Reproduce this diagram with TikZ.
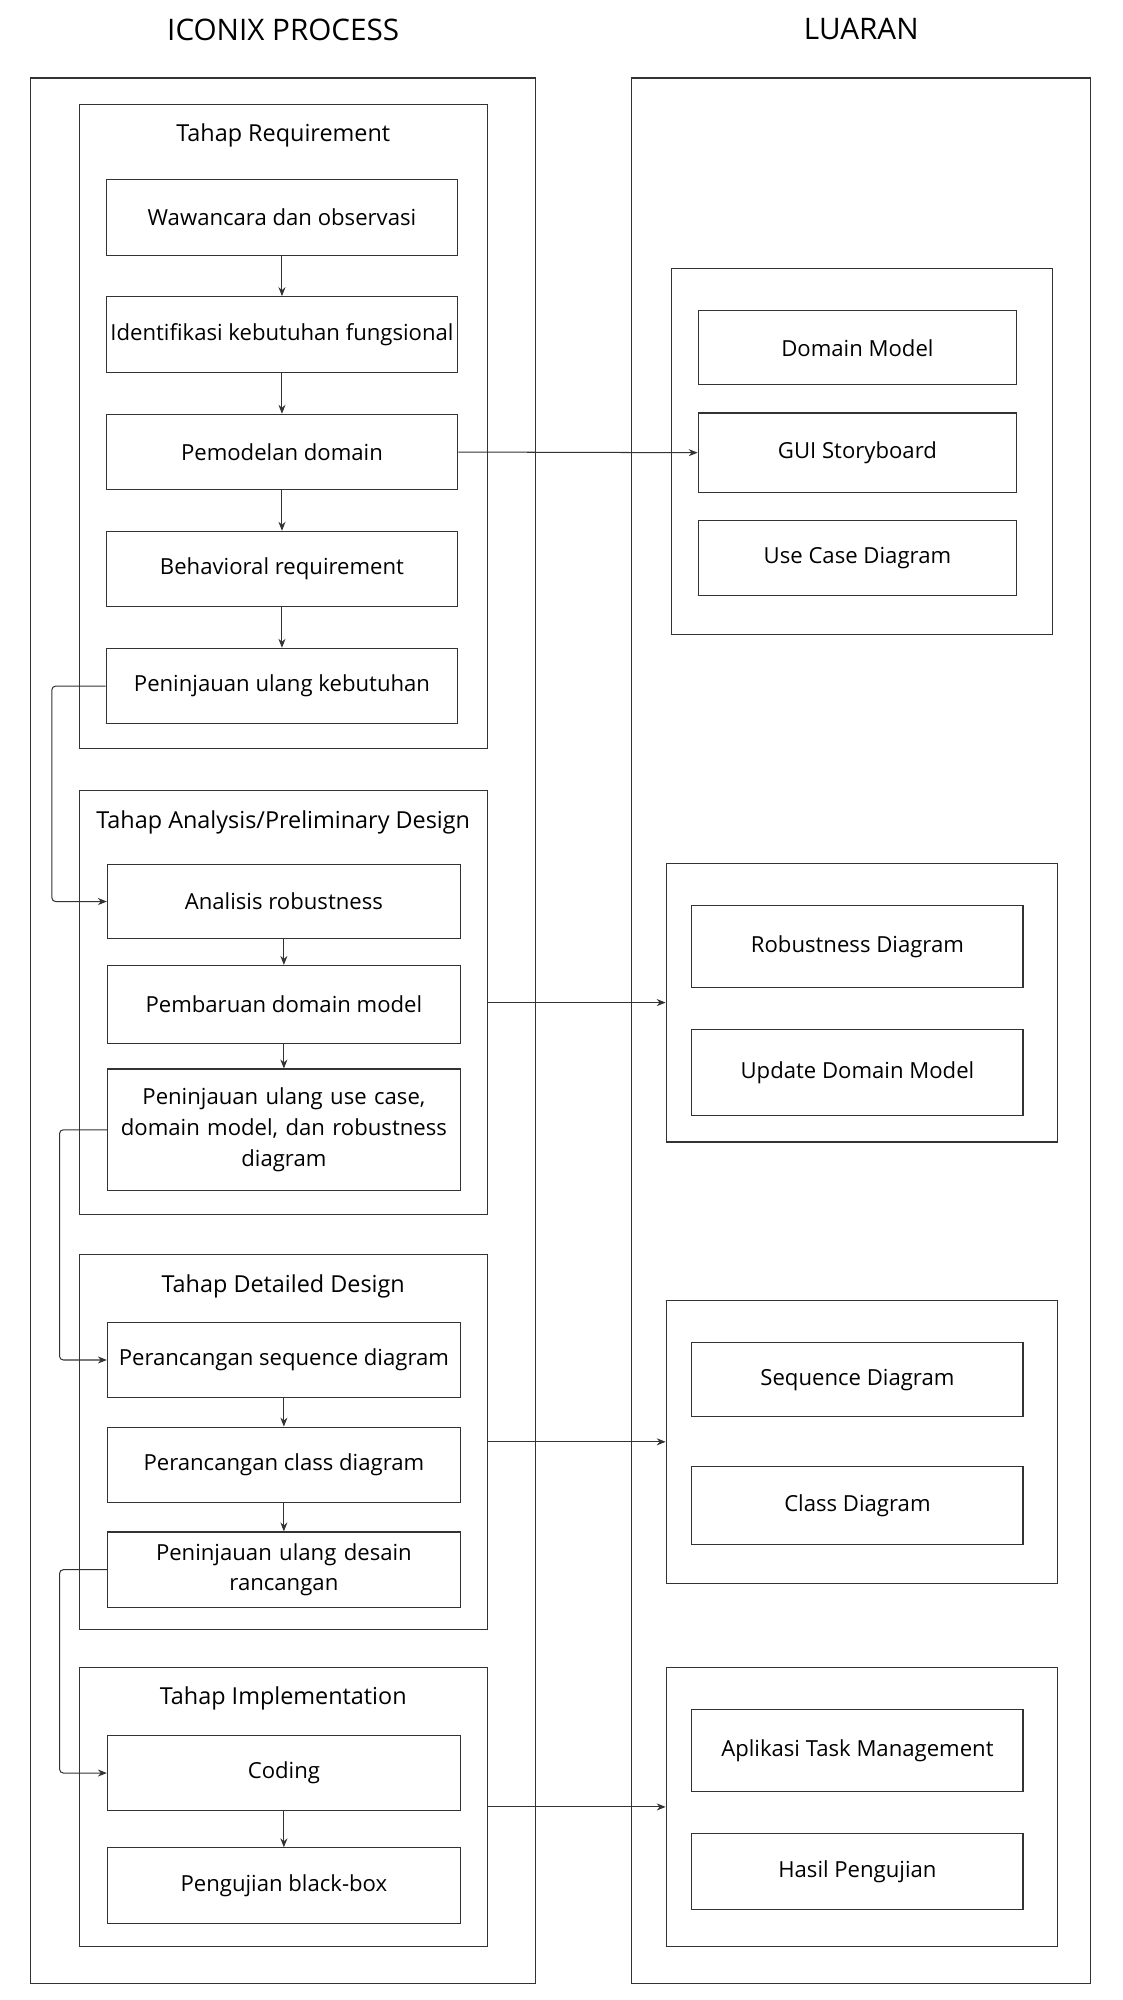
\documentclass[tikz,border=0pt]{standalone}
\usepackage{fontspec}
\setmainfont{Open Sans}
\usetikzlibrary{arrows.meta}
\definecolor{ln}{HTML}{333333}
\begin{document}
\begin{tikzpicture}[x=1pt,y=-1pt,
  frame/.style={draw=ln,line width=0.9pt,rectangle,inner sep=0pt},
  box/.style={frame,font=\fontsize{17.3}{24}\selectfont,align=center},
  gtitle/.style={font=\fontsize{18.3}{22}\selectfont,inner sep=0pt},
  mtitle/.style={font=\fontsize{23.2}{28}\selectfont,inner sep=0pt},
  arr/.style={draw=ln,line width=0.8pt,-{Stealth[length=7pt,width=5.5pt]}}]
\useasboundingbox (0,0) rectangle (878,1564);
% titles
\node[mtitle] (t1) at (221.5,23) {ICONIX PROCESS};
\node[mtitle] (t2) at (673.5,23) {LUARAN};
% outer frames
\node[frame,minimum width=395pt,minimum height=1490pt] (L) at (221.5,806) {};
\node[frame,minimum width=359pt,minimum height=1490pt] (R) at (673.5,806) {};
% groups left
\node[frame,minimum width=319pt,minimum height=503pt] (gR) at (221.5,333.5) {};
\node[gtitle] (gRt) at (221.5,106) {Tahap Requirement};
\node[frame,minimum width=319pt,minimum height=332pt] (gA) at (221.5,784) {};
\node[gtitle] (gAt) at (221.5,643) {Tahap Analysis/Preliminary Design};
\node[frame,minimum width=319pt,minimum height=293pt] (gD) at (221.5,1127.5) {};
\node[gtitle] (gDt) at (221.5,1006) {Tahap Detailed Design};
\node[frame,minimum width=319pt,minimum height=218pt] (gI) at (221.5,1413) {};
\node[gtitle] (gIt) at (221.5,1328) {Tahap Implementation};
% requirement boxes
\node[box,minimum width=275pt,minimum height=59pt] (b1) at (220.5,170) {Wawancara dan observasi};
\node[box,minimum width=275pt,minimum height=59pt] (b2) at (220.5,261.5) {Identifikasi kebutuhan fungsional};
\node[box,minimum width=275pt,minimum height=59pt] (b3) at (220.5,353.5) {Pemodelan domain};
\node[box,minimum width=275pt,minimum height=59pt] (b4) at (220.5,445) {Behavioral requirement};
\node[box,minimum width=275pt,minimum height=59pt] (b5) at (220.5,536.5) {Peninjauan ulang kebutuhan};
% analysis boxes
\node[box,minimum width=276pt,minimum height=58pt] (a1) at (222,705) {Analisis robustness};
\node[box,minimum width=276pt,minimum height=61pt] (a2) at (222,785.5) {Pembaruan domain model};
\node[box,minimum width=276pt,minimum height=95pt,text width=266pt] (a3) at (222,883.5) {Peninjauan ulang use case,\\domain model, dan robustness\\diagram};
% detailed boxes
\node[box,minimum width=276pt,minimum height=59pt] (d1) at (222,1063.5) {Perancangan sequence diagram};
\node[box,minimum width=276pt,minimum height=59pt] (d2) at (222,1145.5) {Perancangan class diagram};
\node[box,minimum width=276pt,minimum height=59pt,text width=266pt] (d3) at (222,1227.5) {Peninjauan ulang desain\\rancangan};
% implementation boxes
\node[box,minimum width=276pt,minimum height=59pt] (i1) at (222,1386.5) {Coding};
\node[box,minimum width=276pt,minimum height=59pt] (i2) at (222,1474.5) {Pengujian black-box};
% right groups
\node[frame,minimum width=298pt,minimum height=286pt] (o1) at (674,353) {};
\node[box,minimum width=249pt,minimum height=58pt] (o11) at (670.5,272) {Domain Model};
\node[box,minimum width=249pt,minimum height=62pt] (o12) at (670.5,354) {GUI Storyboard};
\node[box,minimum width=249pt,minimum height=59pt] (o13) at (670.5,436.5) {Use Case Diagram};
\node[frame,minimum width=306pt,minimum height=218pt] (o2) at (674,784) {};
\node[box,minimum width=259pt,minimum height=64pt] (o21) at (670.5,740) {Robustness Diagram};
\node[box,minimum width=259pt,minimum height=67pt] (o22) at (670.5,838.5) {Update Domain Model};
\node[frame,minimum width=306pt,minimum height=221pt] (o3) at (674,1127.5) {};
\node[box,minimum width=259pt,minimum height=58pt] (o31) at (670.5,1079) {Sequence Diagram};
\node[box,minimum width=259pt,minimum height=61pt] (o32) at (670.5,1177.5) {Class Diagram};
\node[frame,minimum width=306pt,minimum height=218pt] (o4) at (674,1413) {};
\node[box,minimum width=259pt,minimum height=64pt] (o41) at (670.5,1369) {Aplikasi Task Management};
\node[box,minimum width=259pt,minimum height=59pt] (o42) at (670.5,1463.5) {Hasil Pengujian};
% vertical arrows
\draw[arr] (b1) -- (b2);
\draw[arr] (b2) -- (b3);
\draw[arr] (b3) -- (b4);
\draw[arr] (b4) -- (b5);
\draw[arr] (a1) -- (a2);
\draw[arr] (a2) -- (a3);
\draw[arr] (d1) -- (d2);
\draw[arr] (d2) -- (d3);
\draw[arr] (i1) -- (i2);
% loop arrows
\draw[arr,rounded corners=3pt] (b5.west) -- ++(-42,0) |- (a1.west);
\draw[arr,rounded corners=3pt] (a3.west) -- ++(-37,0) |- (d1.west);
\draw[arr,rounded corners=3pt] (d3.west) -- ++(-37,0) |- (i1.west);
% outputs
\draw[arr] (b3.east) -- (o12.west);
\draw[arr] (gA.east) -- (o2.west);
\draw[arr] (gD.east) -- (o3.west);
\draw[arr] (gI.east) -- (o4.west);
\end{tikzpicture}
\end{document}
